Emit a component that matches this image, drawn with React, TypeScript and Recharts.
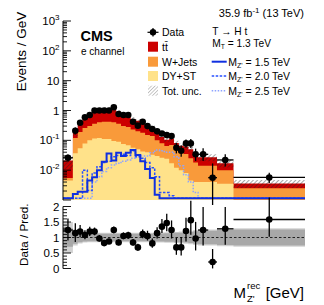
import React from 'react';
import { ComposedChart, Area, Line, Scatter, ErrorBar, XAxis, YAxis, ReferenceLine } from 'recharts';

const FONT = '"Liberation Sans", Arial, Helvetica, sans-serif';

// ---- binning (GeV) ----
const binEdges = [600, 780, 867.5, 955, 1042.5, 1130, 1217.5, 1305, 1392.5, 1480, 1567.5, 1655, 1742.5, 1830, 1917.5, 2005, 2092.5, 2180, 2267.5, 2355, 2442.5, 2530, 2617.5, 2705, 2792.5, 2880, 2967.5, 3055, 3240, 3400, 3700, 5000];

// ---- backgrounds (Events / GeV) ----
const ttbar = [0.0155, 0.06, 0.14, 0.26, 0.34, 0.48, 0.60, 0.70, 0.70, 0.65, 0.54, 0.40, 0.38, 0.29, 0.25, 0.20, 0.16, 0.14, 0.09, 0.05, 0.04, 0.04, 0.032, 0.026, 0.027, 0.025, 0.017, 0.013, 0.013, 0.007, 0.0011];
const wjets = [0.001, 0.083, 0.136, 0.181, 0.20, 0.245, 0.28, 0.31, 0.31, 0.305, 0.27, 0.225, 0.212, 0.174, 0.15, 0.138, 0.11, 0.107, 0.07, 0.054, 0.041, 0.053, 0.038, 0.03, 0.027, 0.0205, 0.014, 0.01, 0.01, 0.0065, 0.0023];
const dyst = [0.0045, 0.037, 0.054, 0.079, 0.10, 0.115, 0.12, 0.11, 0.11, 0.095, 0.09, 0.075, 0.068, 0.056, 0.05, 0.042, 0.04, 0.033, 0.03, 0.026, 0.024, 0.017, 0.012, 0.010, 0.008, 0.0045, 0.004, 0.004, 0.004, 0.0035, 0.0002];

// ---- relative uncertainties of the prediction ----
const uncSyst = [0.3, 0.2, 0.15, 0.13, 0.12, 0.12, 0.12, 0.12, 0.12, 0.12, 0.12, 0.12, 0.12, 0.12, 0.12, 0.12, 0.12, 0.12, 0.13, 0.13, 0.14, 0.14, 0.15, 0.15, 0.16, 0.18, 0.2, 0.22, 0.22, 0.24, 0.26];
const uncTotal = [0.5, 0.26, 0.19, 0.16, 0.15, 0.15, 0.15, 0.15, 0.15, 0.15, 0.15, 0.15, 0.15, 0.15, 0.15, 0.15, 0.15, 0.15, 0.16, 0.16, 0.17, 0.17, 0.18, 0.19, 0.2, 0.22, 0.24, 0.26, 0.26, 0.28, 0.3];

// ---- signals (Events / GeV) ----
const sig15 = [0, 0.0016, 0.0019, 0.0019, 0.0045, 0.0058, 0.010, 0.019, 0.036, 0.021, 0.038, 0.03, 0.038, 0.047, 0.032, 0.02, 0.011, 0.0055, 0.0015, 0, 0, 0, 0, 0, 0, 0, 0, 0, 0, 0, 0];
const sig20 = [0, 0, 0, 0.01, 0.0021, 0.008, 0.013, 0.018, 0.02, 0.028, 0.031, 0.034, 0.031, 0.045, 0.028, 0.025, 0.018, 0.012, 0.006, 0.0018, 0.0018, 0.0014, 0, 0, 0, 0, 0, 0, 0, 0, 0];
const sig25 = [0, 0, 0, 0, 0, 0.004, 0.006, 0.009, 0.012, 0.015, 0.017, 0.02, 0.022, 0.025, 0.028, 0.03, 0.03, 0.038, 0.047, 0.045, 0.04, 0.04, 0.028, 0.014, 0.007, 0.004, 0.0018, 0, 0, 0, 0];

// ---- data ----
const dataVals = [0.026, 0.21, 0.39, 0.59, 0.71, 1.0, 1.0, 1.0, 1.0, 1.28, 0.76, 0.71, 0.71, 0.42, 0.31, 0.42, 0.30, 0.24, 0.20, 0.17, 0.15, 0.14, 0.056, 0.045, 0.079, 0.079, 0.034, 0.034, 0.0056, 0.022, 0.0057];
const ratioVals = [1.24, 1.14, 1.19, 1.08, 1.19, 1.19, 0.97, 0.82, 0.87, 1.24, 0.84, 1.05, 1.07, 0.84, 0.68, 1.11, 1.05, 0.81, 1.14, 1.35, 1.47, 1.24, 0.68, 0.68, 1.21, 1.56, 0.97, 1.24, 0.21, 1.28, 1.58];
const relErrLo = [0.27, 0.25, 0.16, 0.13, 0.12, 0.1, 0.1, 0.09, 0.09, 0.08, 0.11, 0.1, 0.1, 0.12, 0.16, 0.12, 0.14, 0.17, 0.15, 0.15, 0.18, 0.22, 0.35, 0.38, 0.28, 0.3, 0.4, 0.4, 0.99, 0.4, 0.35];
const relErrHi = [0.3, 0.28, 0.18, 0.14, 0.13, 0.11, 0.11, 0.1, 0.1, 0.09, 0.12, 0.11, 0.11, 0.13, 0.18, 0.13, 0.16, 0.19, 0.17, 0.18, 0.2, 0.25, 0.45, 0.5, 0.35, 0.4, 0.55, 0.6, 2.0, 0.55, 0.45];

// ---- ticks ----
const xTicks = [600, 800, 1000, 1200, 1400, 1600, 1800, 2000, 2200, 2400, 2600, 2800, 3000, 3200, 3400, 3600, 3800, 4000, 4200, 4400, 4600, 4800, 5000];
const logDecades = [0.001, 0.01, 0.1, 1, 10, 100];
const logSubs = [1, 2, 3, 4, 5, 6, 7, 8, 9];
const ratioTicks = [0, 0.1, 0.2, 0.3, 0.4, 0.5, 0.6, 0.7, 0.8, 0.9, 1, 1.1, 1.2, 1.3, 1.4, 1.5, 1.6, 1.7, 1.8, 1.9, 2];

const COLORS = { tt: '#cc0000', wj: '#f99a3a', dy: '#ffe28a', s15: '#1030e0', s20: '#2850ff', s25: '#8ea4ff' };

const LOG_MIN = 0.001;
const LINE_FLOOR = 0.00115;
const nBins = binEdges.length - 1;
const logTicks: number[] = [];
logDecades.forEach((d) => logSubs.forEach((s) => logTicks.push(+(d * s).toPrecision(3))));
logTicks.push(1000);

const mainRows = binEdges.map((x, i) => {
  const k = Math.min(i, nBins - 1);
  const dw = dyst[k] + wjets[k];
  const tot = dw + ttbar[k];
  return {
    x,
    dy: Math.max(dyst[k], LOG_MIN),
    dw: Math.max(dw, LOG_MIN),
    tot,
    unc: [tot * (1 - uncTotal[k]), tot * (1 + uncTotal[k])],
    s15: Math.max(sig15[k], LINE_FLOOR),
    s20: Math.max(sig20[k], LINE_FLOOR),
    s25: Math.max(sig25[k], LINE_FLOOR),
  };
});

const dataPts = dataVals.map((v, i) => ({
  x: (binEdges[i] + binEdges[i + 1]) / 2,
  y: v,
  ey: [v * relErrLo[i], v * relErrHi[i]],
  ex: (binEdges[i + 1] - binEdges[i]) / 2,
}));

const ratioRows = binEdges.map((x, i) => {
  const k = Math.min(i, nBins - 1);
  return { x, outer: [1 - uncTotal[k], 1 + uncTotal[k]], inner: [1 - uncSyst[k], 1 + uncSyst[k]] };
});

const ratioPts = ratioVals.map((r, i) => ({
  x: (binEdges[i] + binEdges[i + 1]) / 2,
  y: r,
  ey: [r * relErrLo[i], r * relErrHi[i]],
  ex: (binEdges[i + 1] - binEdges[i]) / 2,
}));

type Side = 'bottom' | 'top' | 'left' | 'right';
function tickRenderer(side: Side, isMajor: (v: number) => boolean, majorLen: number, minorLen: number,
  label?: (v: number, x: number, y: number) => React.ReactNode) {
  return (props: any) => {
    const x = Number(props.x);
    const y = Number(props.y);
    const v = props.payload ? props.payload.value : 0;
    const mj = isMajor(v);
    const len = mj ? majorLen : minorLen;
    let x2 = x;
    let y2 = y;
    if (side === 'bottom') y2 = y - len;
    else if (side === 'top') y2 = y + len;
    else if (side === 'left') x2 = x + len;
    else x2 = x - len;
    return (
      <g>
        <line x1={x} y1={y} x2={x2} y2={y2} stroke="#000" strokeWidth={0.9} />
        {mj && label ? label(v, x, y) : null}
      </g>
    );
  };
}

const isMajorX = (v: number) => Math.abs(v % 1000) < 1e-6;
const isMajorLog = (v: number) => {
  const l = Math.log10(v);
  return Math.abs(l - Math.round(l)) < 1e-6;
};
const isMajorRatio = (v: number) => Math.abs(v * 2 - Math.round(v * 2)) < 1e-6;

const logLabel = (v: number, x: number, y: number) => {
  const e = Math.round(Math.log10(v));
  if (e < -2) return null;
  const common = { x: x - 3.5, y: y + 4, textAnchor: 'end' as const, fontSize: 11.5, fontFamily: FONT, fill: '#000' };
  if (e === 0) return <text {...common}>1</text>;
  if (e === 1) return <text {...common}>10</text>;
  return (
    <text {...common}>10<tspan dy={-5} fontSize={8}>{e}</tspan></text>
  );
};

const ratioLabel = (v: number, x: number, y: number) => (
  <text x={x - 3.5} y={y + 4} textAnchor="end" fontSize={11.5} fontFamily={FONT} fill="#000">{String(v)}</text>
);

const xLabel = (v: number, x: number, y: number) =>
  v >= 1000 ? (
    <text x={x} y={y + 14} textAnchor="middle" fontSize={12} fontFamily={FONT} fill="#000">{String(v)}</text>
  ) : null;

const axisCommon = { tickSize: 0, tickMargin: 0, tickLine: false, interval: 0 as const, axisLine: { stroke: '#000', strokeWidth: 1 } };

function MainPanel() {
  return (
    <ComposedChart width={324} height={205} data={mainRows} margin={{ top: 21, right: 19, bottom: 5, left: 13 }}>
      <XAxis xAxisId="b" dataKey="x" type="number" domain={[600, 5000]} allowDataOverflow ticks={xTicks} height={0}
        orientation="bottom" {...axisCommon} tick={tickRenderer('bottom', isMajorX, 6, 3.5)} />
      <XAxis xAxisId="t" dataKey="x" type="number" domain={[600, 5000]} allowDataOverflow ticks={xTicks} height={0}
        orientation="top" {...axisCommon} tick={tickRenderer('top', isMajorX, 6, 3.5)} />
      <YAxis yAxisId="l" type="number" scale="log" domain={[0.001, 1000]} allowDataOverflow ticks={logTicks} width={50}
        orientation="left" {...axisCommon} tick={tickRenderer('left', isMajorLog, 8, 4, logLabel)} />
      <YAxis yAxisId="r" type="number" scale="log" domain={[0.001, 1000]} allowDataOverflow ticks={logTicks} width={0}
        orientation="right" {...axisCommon} tick={tickRenderer('right', isMajorLog, 8, 4)} />

      <Area xAxisId="b" yAxisId="l" type="stepAfter" dataKey="tot" fill={COLORS.tt} fillOpacity={1} stroke="none" baseValue="dataMin" isAnimationActive={false} />
      <Area xAxisId="b" yAxisId="l" type="stepAfter" dataKey="dw" fill={COLORS.wj} fillOpacity={1} stroke="none" baseValue="dataMin" isAnimationActive={false} />
      <Area xAxisId="b" yAxisId="l" type="stepAfter" dataKey="dy" fill={COLORS.dy} fillOpacity={1} stroke="none" baseValue="dataMin" isAnimationActive={false} />
      <Area xAxisId="b" yAxisId="l" type="stepAfter" dataKey="unc" fill="url(#hatchUnc)" fillOpacity={1} stroke="none" isAnimationActive={false} />

      <Line xAxisId="b" yAxisId="l" type="stepAfter" dataKey="s25" stroke={COLORS.s25} strokeWidth={1.5} strokeDasharray="1.5 1.5" dot={false} isAnimationActive={false} />
      <Line xAxisId="b" yAxisId="l" type="stepAfter" dataKey="s20" stroke={COLORS.s20} strokeWidth={1.5} strokeDasharray="2.5 1.5" dot={false} isAnimationActive={false} />
      <Line xAxisId="b" yAxisId="l" type="stepAfter" dataKey="s15" stroke={COLORS.s15} strokeWidth={2} dot={false} isAnimationActive={false} />

      <Scatter xAxisId="b" yAxisId="l" data={dataPts} dataKey="y" isAnimationActive={false}
        shape={(p: any) => <circle cx={p.cx} cy={p.cy} r={3.3} fill="#000" />}>
        <ErrorBar dataKey="ey" direction="y" width={0} stroke="#000" strokeWidth={1.3} />
        <ErrorBar dataKey="ex" direction="x" width={0} stroke="#000" strokeWidth={1.3} />
      </Scatter>
    </ComposedChart>
  );
}

function RatioPanel() {
  return (
    <ComposedChart width={324} height={110} data={ratioRows} margin={{ top: 11.5, right: 19, bottom: 36.5, left: 13 }}>
      <XAxis xAxisId="b" dataKey="x" type="number" domain={[600, 5000]} allowDataOverflow ticks={xTicks} height={0}
        orientation="bottom" {...axisCommon} tick={tickRenderer('bottom', isMajorX, 7, 3.5, xLabel)} />
      <XAxis xAxisId="t" dataKey="x" type="number" domain={[600, 5000]} allowDataOverflow ticks={xTicks} height={0}
        orientation="top" {...axisCommon} tick={tickRenderer('top', isMajorX, 7, 3.5)} />
      <YAxis yAxisId="l" type="number" domain={[0, 2]} allowDataOverflow ticks={ratioTicks} width={50}
        orientation="left" {...axisCommon} tick={tickRenderer('left', isMajorRatio, 8, 4, ratioLabel)} />
      <YAxis yAxisId="r" type="number" domain={[0, 2]} allowDataOverflow ticks={ratioTicks} width={0}
        orientation="right" {...axisCommon} tick={tickRenderer('right', isMajorRatio, 8, 4)} />

      <Area xAxisId="b" yAxisId="l" type="stepAfter" dataKey="outer" fill="#d2d2d2" fillOpacity={1} stroke="none" isAnimationActive={false} />
      <Area xAxisId="b" yAxisId="l" type="stepAfter" dataKey="inner" fill="#a8a8a8" fillOpacity={1} stroke="none" isAnimationActive={false} />
      <ReferenceLine xAxisId="b" yAxisId="l" y={1} stroke="#000" strokeWidth={0.8} strokeDasharray="2.5 2" />

      <Scatter xAxisId="b" yAxisId="l" data={ratioPts} dataKey="y" isAnimationActive={false}
        shape={(p: any) => <circle cx={p.cx} cy={p.cy} r={3.3} fill="#000" />}>
        <ErrorBar dataKey="ey" direction="y" width={0} stroke="#000" strokeWidth={1.3} />
        <ErrorBar dataKey="ex" direction="x" width={0} stroke="#000" strokeWidth={1.3} />
      </Scatter>
    </ComposedChart>
  );
}

const legendLeft = [
  { label: 'tt\u0304', color: COLORS.tt, y: 46.7 },
  { label: 'W+Jets', color: COLORS.wj, y: 61.7 },
  { label: 'DY+ST', color: COLORS.dy, y: 76 },
];
const legendSignals = [
  { mass: '1.5', color: COLORS.s15, width: 2, dash: undefined as string | undefined, y: 61.7 },
  { mass: '2.0', color: COLORS.s20, width: 1.5, dash: '2.5 1.5', y: 76 },
  { mass: '2.5', color: COLORS.s25, width: 1.5, dash: '1.5 1.5', y: 90.7 },
];

function Overlay() {
  const fs = 10.5;
  return (
    <svg width={324} height={305} style={{ position: 'absolute', left: 0, top: 0, pointerEvents: 'none' }} fontFamily={FONT}>
      <text x={304} y={16.5} textAnchor="end" fontSize={11} fill="#000">
        35.9 fb<tspan dy={-4} fontSize={8}>-1</tspan><tspan dy={4}> (13 TeV)</tspan>
      </text>
      <text x={80.5} y={40.5} fontSize={14.5} fontWeight="bold" fill="#000">CMS</text>
      <text x={81} y={55} fontSize={10} fill="#000">e channel</text>

      {/* data entry */}
      <line x1={147.5} y1={32.3} x2={158.5} y2={32.3} stroke="#000" strokeWidth={1.2} />
      <line x1={153} y1={28} x2={153} y2={36.6} stroke="#000" strokeWidth={1.2} />
      <circle cx={153} cy={32.3} r={3.2} fill="#000" />
      <text x={162} y={36.1} fontSize={fs} fill="#000">Data</text>

      {legendLeft.map((e) => (
        <g key={e.label}>
          <rect x={148} y={e.y - 5} width={10} height={10} fill={e.color} />
          <text x={162} y={e.y + 3.8} fontSize={fs} fill="#000">{e.label}</text>
        </g>
      ))}
      <rect x={148} y={90.7 - 5} width={10} height={10} fill="url(#hatchLegend)" />
      <text x={162} y={94.5} fontSize={fs} fill="#000">Tot. unc.</text>

      <text x={212.3} y={35.3} fontSize={10.2} fill="#000">T {'\u2192'} H t</text>
      <text x={212.3} y={47.3} fontSize={10.2} fill="#000">M<tspan dy={2} fontSize={6.8}>T</tspan><tspan dy={-2}> = 1.3 TeV</tspan></text>

      {legendSignals.map((s) => (
        <g key={s.mass}>
          <line x1={211.7} y1={s.y} x2={226.7} y2={s.y} stroke={s.color} strokeWidth={s.width} strokeDasharray={s.dash} />
          <text x={228.3} y={s.y + 3.9} fontSize={fs} fill="#000">M<tspan dy={2.5} fontSize={7}>Z'</tspan><tspan dy={-2.5}> = {s.mass} TeV</tspan></text>
        </g>
      ))}

      <text transform="translate(26.3, 11.7) rotate(-90)" textAnchor="end" fontSize={13.5} fill="#000">Events / GeV</text>
      <text transform="translate(28.2, 203.5) rotate(-90)" textAnchor="end" fontSize={11.7} fill="#000">Data / Pred.</text>

      <text x={233.5} y={297.5} fontSize={15} fill="#000">M</text>
      <text x={247} y={289} fontSize={9.5} fill="#000">rec</text>
      <text x={247} y={301.5} fontSize={9.5} fill="#000">Z'</text>
      <text x={304} y={297.5} textAnchor="end" fontSize={15} fill="#000">[GeV]</text>
    </svg>
  );
}

export default function App() {
  return (
    <div style={{ position: 'absolute', left: 0, top: 0, width: 324, height: 305, background: '#fff', fontFamily: FONT, overflow: 'hidden' }}>
      <svg width={0} height={0} style={{ position: 'absolute' }}>
        <defs>
          <pattern id="hatchUnc" patternUnits="userSpaceOnUse" width={3} height={3} patternTransform="rotate(45)">
            <line x1={0} y1={0} x2={0} y2={3} stroke="#222" strokeOpacity={0.75} strokeWidth={1.1} />
          </pattern>
          <pattern id="hatchLegend" patternUnits="userSpaceOnUse" width={2.5} height={2.5} patternTransform="rotate(45)">
            <line x1={0} y1={0} x2={0} y2={2.5} stroke="#888" strokeWidth={0.9} />
          </pattern>
        </defs>
      </svg>
      <div style={{ position: 'absolute', left: 0, top: 0 }}>
        <MainPanel />
      </div>
      <div style={{ position: 'absolute', left: 0, top: 195 }}>
        <RatioPanel />
      </div>
      <Overlay />
    </div>
  );
}
